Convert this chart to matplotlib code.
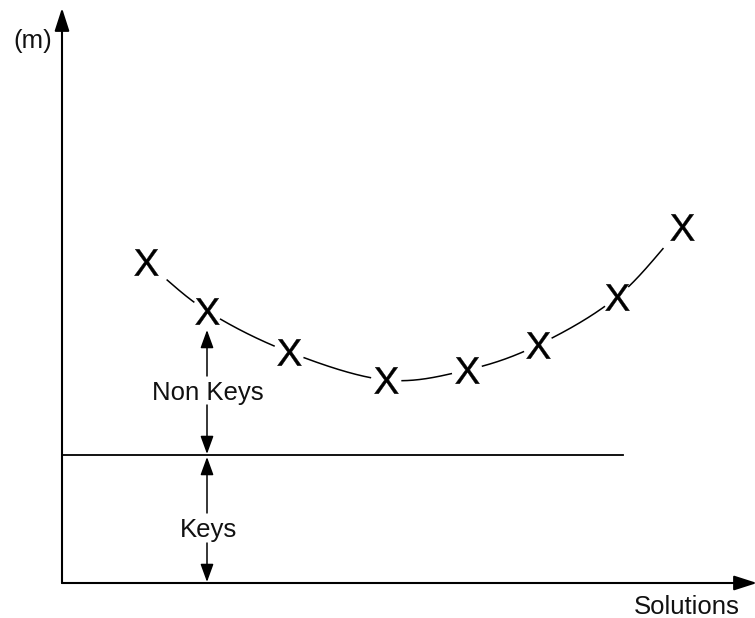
import numpy as np
import matplotlib
matplotlib.use("Agg")
import matplotlib.pyplot as plt
from matplotlib.patches import FancyArrowPatch

plt.rcParams['font.family'] = ['Liberation Sans', 'DejaVu Sans']
plt.rcParams['mathtext.fontset'] = 'custom'
plt.rcParams['mathtext.rm'] = 'Liberation Sans'

# ---- data (chart units) ----
solution_x = [84, 145, 227, 324, 405, 476, 555, 620]
m_values = [321, 272, 231, 203, 213, 238, 286, 356]
keys_level = 128
keys_line_end = 561
x_max = 695
y_max = 575
x_label = "Solutions"
y_label = "(m)"
upper_label = "Non Keys"
lower_label = "Keys"

fig = plt.figure(figsize=(7.55, 6.18), dpi=100)
ax = fig.add_axes([0, 0, 1, 1])
ax.set_xlim(-62, 693)
ax.set_ylim(-35, 583)
ax.axis('off')

# smooth curve (Catmull-Rom) through points
P = np.column_stack([solution_x, m_values]).astype(float)
ext = np.vstack([2 * P[0] - P[1], P, 2 * P[-1] - P[-2]])
curve = []
for i in range(1, len(ext) - 2):
    p0, p1, p2, p3 = ext[i - 1], ext[i], ext[i + 1], ext[i + 2]
    t = np.linspace(0, 1, 200)[:, None]
    seg = 0.5 * ((2 * p1) + (-p0 + p2) * t + (2 * p0 - 5 * p1 + 4 * p2 - p3) * t ** 2
                 + (-p0 + 3 * p1 - 3 * p2 + p3) * t ** 3)
    curve.append(seg)
curve = np.vstack(curve)
radii = np.full(len(P), 15.0)
radii[0] = 27
radii[-1] = 28
mask = np.zeros(len(curve), bool)
for (px, py), r in zip(P, radii):
    mask |= np.hypot(curve[:, 0] - px, curve[:, 1] - py) < r
cx = curve[:, 0].copy()
cy = curve[:, 1].copy()
cx[mask] = np.nan
cy[mask] = np.nan
ax.plot(cx, cy, color='black', lw=1.1, solid_capstyle='butt')

ax.plot(solution_x, m_values, linestyle='none', marker=r'$\mathrm{X}$',
        markersize=19, color='black', markeredgewidth=0.3)

# axes with arrows
def arrow(x0, y0, x1, y1, hl=1.4, hw=0.45, lw=1.5):
    a = FancyArrowPatch((x0, y0), (x1, y1),
                        arrowstyle=f'-|>,head_length={hl},head_width={hw}',
                        mutation_scale=10, color='black', lw=lw,
                        shrinkA=0, shrinkB=0)
    ax.add_patch(a)

arrow(0, 0, 0, y_max, lw=1.5)
arrow(0, 0, x_max, 0, lw=1.5)
ax.plot([0, keys_line_end], [keys_level, keys_level], color='black', lw=1.3)

# dimension arrows
ax_x = solution_x[1]
arrow(ax_x, 207, ax_x, m_values[1] - 19, hl=1.1, hw=0.4, lw=1.1)
arrow(ax_x, 178, ax_x, keys_level + 1, hl=1.1, hw=0.4, lw=1.1)
arrow(ax_x, 70, ax_x, keys_level - 2, hl=1.1, hw=0.4, lw=1.1)
arrow(ax_x, 40, ax_x, 1, hl=1.1, hw=0.4, lw=1.1)

fs = 18.5
ax.text(ax_x + 1, 183, upper_label, ha='center', va='baseline', fontsize=fs, color='#111')
ax.text(ax_x + 1, 46, lower_label, ha='center', va='baseline', fontsize=fs, color='#111')
ax.text(625, -31, x_label, ha='center', va='baseline', fontsize=fs, color='#111')
ax.text(-29, 535, y_label, ha='center', va='baseline', fontsize=fs, color='#111')

fig.savefig('out.png', dpi=100)
